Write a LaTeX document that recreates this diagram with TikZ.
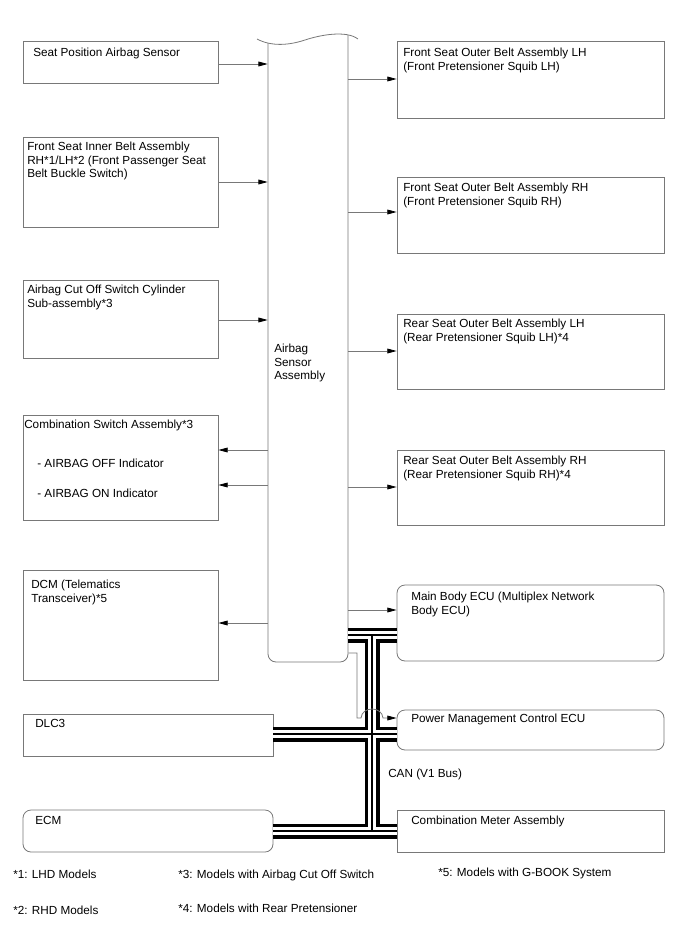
\documentclass[tikz,border=0pt]{standalone}
\usepackage{fontspec}
\setmainfont{Liberation Sans}
\usetikzlibrary{arrows.meta,fit}
\definecolor{edge}{RGB}{120,120,120}
\begin{document}
\begin{tikzpicture}[x=0.75pt,y=-0.75pt,
  every node/.style={font=\fontsize{8.8}{10.2}\selectfont},
  box/.style={draw=edge,line width=0.6pt,inner sep=0pt},
  rbox/.style={box,rounded corners=6pt},
  hidden/.style={inner sep=0pt},
  txt/.style={anchor=north west,inner sep=0pt,align=left,text=black},
  arr/.style={draw=edge,line width=0.6pt,-{Triangle[length=7pt,width=3.6pt,color=black]}},
  outline/.style={draw=edge,line width=0.6pt}]
\useasboundingbox (0,0) rectangle (688,949);

% left boxes
\node[box,fit={(23,41) (218,83)}] (spa) {};
\node[txt] (spat) at (33,48) {Seat Position Airbag Sensor};
\node[box,fit={(23,137) (218,227)}] (fsi) {};
\node[txt] (fsit) at (27,142) {Front Seat Inner Belt Assembly\\RH*1/LH*2 (Front Passenger Seat\\Belt Buckle Switch)};
\node[box,fit={(23,280) (218,358)}] (aco) {};
\node[txt] (acot) at (27,285) {Airbag Cut Off Switch Cylinder\\Sub-assembly*3};
\node[box,fit={(23,415) (218,520)}] (csa) {};
\node[txt] (csat) at (24,420) {Combination Switch Assembly*3};
\node[txt] (csa1) at (37,459) {- AIRBAG OFF Indicator};
\node[txt] (csa2) at (37,489) {- AIRBAG ON Indicator};
\node[box,fit={(23,570) (218,680)}] (dcm) {};
\node[txt] (dcmt) at (31,580) {DCM (Telematics\\Transceiver)*5};
\node[box,fit={(23,714) (273,756)}] (dlc) {};
\node[txt] (dlct) at (35,719) {DLC3};
\node[rbox,fit={(23,810) (273,852)}] (ecm) {};
\node[txt] (ecmt) at (35,816) {ECM};

% airbag sensor assembly
\node[hidden,fit={(268,40) (348,662)}] (asa) {};
\draw[outline] (257,39) .. controls (272,47) and (290,45) .. (305,40)
  .. controls (320,35) and (346,30) .. (358,39);
\draw[outline,rounded corners=6pt] (268,43.1) -- (268,662) -- (348,662) -- (348,34.9);
\node[txt] (asat) at (274,344) {Airbag\\Sensor\\Assembly};

% right boxes
\node[box,fit={(397,41) (664,118)}] (fol) {};
\node[txt] (folt) at (403,48) {Front Seat Outer Belt Assembly LH\\(Front Pretensioner Squib LH)};
\node[box,fit={(397,177) (664,253)}] (for) {};
\node[txt] (fort) at (403,183) {Front Seat Outer Belt Assembly RH\\(Front Pretensioner Squib RH)};
\node[box,fit={(397,314) (664,389)}] (rol) {};
\node[txt] (rolt) at (403,319) {Rear Seat Outer Belt Assembly LH\\(Rear Pretensioner Squib LH)*4};
\node[box,fit={(397,450) (664,525)}] (ror) {};
\node[txt] (rort) at (403,456) {Rear Seat Outer Belt Assembly RH\\(Rear Pretensioner Squib RH)*4};
\node[rbox,fit={(397,585) (664,661)}] (mbe) {};
\node[txt] (mbet) at (411,592) {Main Body ECU (Multiplex Network\\Body ECU)};
\node[rbox,fit={(397,710) (664,750)}] (pmc) {};
\node[txt] (pmct) at (411,714) {Power Management Control ECU};
\node[box,fit={(397,810) (664,852)}] (cma) {};
\node[txt] (cmat) at (411,816) {Combination Meter Assembly};

% arrows
\draw[arr] (spa.east |- 0,64) -- (asa.west |- 0,64);
\draw[arr] (fsi.east |- 0,182) -- (asa.west |- 0,182);
\draw[arr] (aco.east |- 0,320) -- (asa.west |- 0,320);
\draw[arr] (asa.west |- 0,450) -- (csa.east |- 0,450);
\draw[arr] (asa.west |- 0,485) -- (csa.east |- 0,485);
\draw[arr] (asa.west |- 0,623) -- (dcm.east |- 0,623);
\draw[arr] (asa.east |- 0,79) -- (fol.west |- 0,79);
\draw[arr] (asa.east |- 0,212) -- (for.west |- 0,212);
\draw[arr] (asa.east |- 0,351) -- (rol.west |- 0,351);
\draw[arr] (asa.east |- 0,487) -- (ror.west |- 0,487);
\draw[arr] (asa.east |- 0,610) -- (mbe.west |- 0,610);

% CAN bus
\coordinate (bt) at (372,635);
\coordinate (bb) at (372,831);
\foreach \lw/\lc in {11.25pt/black,6pt/white,0.8pt/black}{
  \draw[line width=\lw,draw=\lc,line cap=butt]
    (asa.east |- bt) -- (mbe.west |- bt)
    (bt) -- (bb)
    (dlc.east |- 0,734) -- (pmc.west |- 0,734)
    (ecm.east |- bb) -- (cma.west |- bb);
}
\node[txt] (can) at (388,769) {CAN (V1 Bus)};

% connector to power management with jump
\draw[arr] (asa.east |- 0,653) -- (357,653) -- (357,718) -- (361,718)
  .. controls (362,706) and (382,706) .. (383,718) -- (pmc.west |- 0,718);

% footnotes
\node[txt] (n1) at (13,870) {*1: LHD Models};
\node[txt] (n3) at (178,870) {*3: Models with Airbag Cut Off Switch};
\node[txt] (n5) at (438,868) {*5: Models with G-BOOK System};
\node[txt] (n2) at (13,906) {*2: RHD Models};
\node[txt] (n4) at (178,904) {*4: Models with Rear Pretensioner};
\end{tikzpicture}
\end{document}
